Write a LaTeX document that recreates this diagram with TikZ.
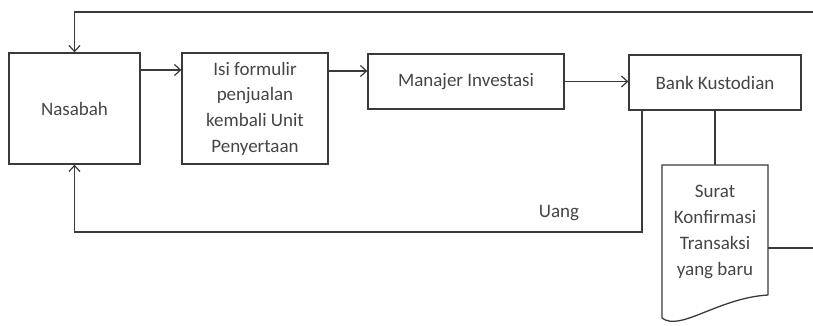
\documentclass[tikz,border=0pt]{standalone}
\usepackage{fontspec}
\setmainfont{Carlito}
\usetikzlibrary{arrows.meta,calc}
\definecolor{ln}{HTML}{3A3A3A}
\definecolor{tx}{HTML}{454545}
\tikzset{
  box/.style={draw=ln,line width=1.3pt,rectangle,inner sep=0pt,align=center,text=tx,font=\fontsize{19}{25.7}\selectfont},
  doctext/.style={inner sep=0pt,align=center,text=tx,font=\fontsize{19}{25.7}\selectfont},
  arr/.style={draw=ln,line width=1.3pt,-{Straight Barb[length=6pt,width=11pt,line width=1.2pt]}},
  conn/.style={draw=ln,line width=1.3pt},
}
\begin{document}
\begin{tikzpicture}[x=1pt,y=-1pt]
\useasboundingbox (0,0) rectangle (813,326);
\node[box,minimum width=131pt,minimum height=111pt] (nas) at (74.5,108.5) {Nasabah};
\node[box,minimum width=146pt,minimum height=111pt] (isi) at (255,108.5) {Isi formulir\\penjualan\\kembali Unit\\Penyertaan};
\node[box,minimum width=196pt,minimum height=55pt] (man) at (466,81.5) {Manajer Investasi};
\node[box,minimum width=172pt,minimum height=55pt] (bank) at (715,82.5) {Bank Kustodian};
\node[doctext,minimum width=106pt,minimum height=134pt] (doc) at (715,232) {Surat\\Konfirmasi\\Transaksi\\yang baru};
\draw[conn] (768,295) -- (768,165) -- (662,165) -- (662,318) .. controls (680,332) and (718,298) .. (768,295);
\node[doctext] (uang) at (559,213) {Uang};
\coordinate (topR) at (813,12);
\coordinate (docR) at (813,248);
\draw[arr] (topR) -| (nas.north);
\draw[arr] (nas.east |- 0,70) -- (isi.west |- 0,70);
\draw[arr] (isi.east |- 0,71) -- (man.west |- 0,71);
\draw[arr] (man.east) -- (bank.west |- man.east);
\draw[arr] (bank.south -| 642,0) |- (nas.south |- 0,232) -- (nas.south);
\draw[conn] (bank.south) -- (715,165);
\draw[conn] (768,248) -- (docR);
\end{tikzpicture}
\end{document}
